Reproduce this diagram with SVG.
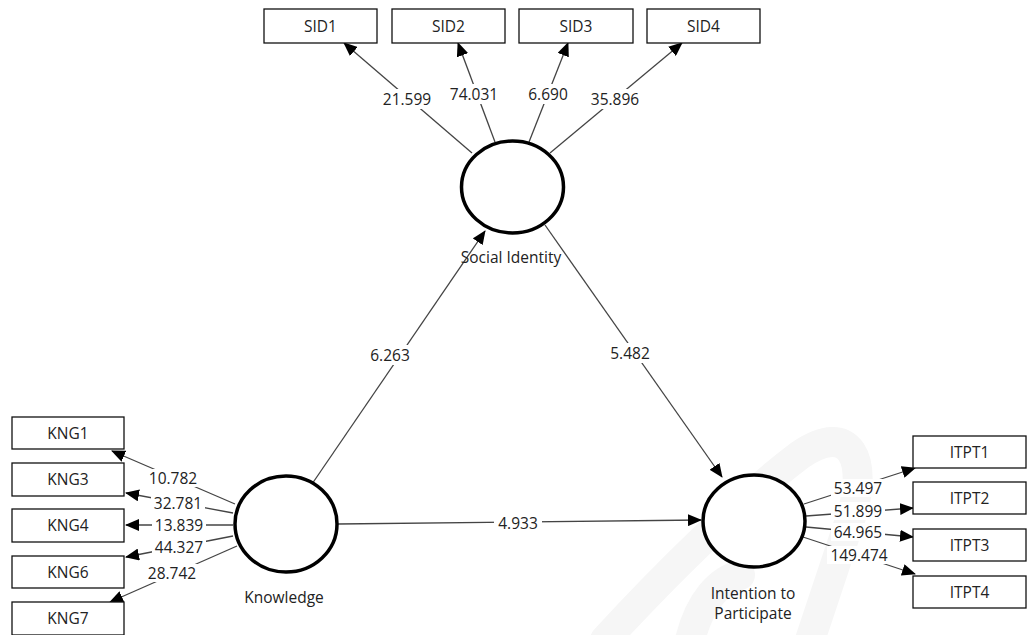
<svg xmlns="http://www.w3.org/2000/svg" width="1027" height="635" viewBox="0 0 1027 635">
<style>
.box{fill:#fff;stroke:#111;stroke-width:1.3}
.lv{fill:#fff;stroke:#000;stroke-width:3.5}
.t{font-family:"Open Sans","Noto Sans",sans-serif;font-size:15.5px;fill:#222;text-anchor:middle}
.c{stroke:#444;stroke-width:1.3;fill:none;marker-end:url(#ah)}
.bg{fill:#fff}
</style>
<defs>
<marker id="ah" markerUnits="userSpaceOnUse" markerWidth="14" markerHeight="12" viewBox="0 0 14 12" refX="13" refY="6" orient="auto">
<path d="M0,0 L14,6 L0,12 Z" fill="#000"/>
</marker>
</defs>
<rect width="1027" height="635" fill="#fff"/>
<g id="watermark" fill="none" stroke="#f6f6f6" stroke-width="30" stroke-linecap="round">
<path d="M605,640 C660,580 740,500 800,455 C850,420 870,460 850,520 C830,580 820,610 810,640"/>
<path d="M690,640 C700,600 720,580 740,575"/>
</g>
<g id="connectors">
<line class="c" x1="472" y1="153" x2="344" y2="43"/>
<line class="c" x1="495" y1="142" x2="458" y2="43"/>
<line class="c" x1="529" y1="142" x2="568" y2="43"/>
<line class="c" x1="550" y1="153" x2="682" y2="43"/>
<line class="c" x1="235" y1="504" x2="112" y2="451"/>
<line class="c" x1="233" y1="513" x2="126" y2="493"/>
<line class="c" x1="233" y1="525" x2="126" y2="525"/>
<line class="c" x1="233" y1="536" x2="126" y2="557"/>
<line class="c" x1="237" y1="546" x2="110" y2="602"/>
<line class="c" x1="804" y1="504" x2="915" y2="468"/>
<line class="c" x1="806" y1="516" x2="913" y2="508"/>
<line class="c" x1="806" y1="527" x2="913" y2="537"/>
<line class="c" x1="803" y1="537" x2="915" y2="574"/>
<line class="c" x1="312" y1="484" x2="485" y2="231"/>
<line class="c" x1="545" y1="225" x2="722" y2="477"/>
<line class="c" x1="338" y1="524" x2="701" y2="520"/>
</g>
<g id="labels">
<rect class="bg" x="380" y="89" width="54" height="20"/><text class="t" x="407" y="104.5">21.599</text>
<rect class="bg" x="447" y="84" width="54" height="20"/><text class="t" x="474" y="99.5">74.031</text>
<rect class="bg" x="525" y="84" width="46" height="20"/><text class="t" x="548" y="99.5">6.690</text>
<rect class="bg" x="588" y="89" width="54" height="20"/><text class="t" x="615" y="104.5">35.896</text>
<rect class="bg" x="146" y="469" width="54" height="18"/><text class="t" x="173" y="483.5">10.782</text>
<rect class="bg" x="151" y="494" width="54" height="18"/><text class="t" x="178" y="508.5">32.781</text>
<rect class="bg" x="152" y="516" width="54" height="18"/><text class="t" x="179" y="530.5">13.839</text>
<rect class="bg" x="152" y="538" width="54" height="18"/><text class="t" x="179" y="552.5">44.327</text>
<rect class="bg" x="145" y="564" width="54" height="18"/><text class="t" x="172" y="578.5">28.742</text>
<rect class="bg" x="831" y="479" width="54" height="18"/><text class="t" x="858" y="493.5">53.497</text>
<rect class="bg" x="831" y="502" width="54" height="18"/><text class="t" x="858" y="516.5">51.899</text>
<rect class="bg" x="831" y="523" width="54" height="18"/><text class="t" x="858" y="537.5">64.965</text>
<rect class="bg" x="827" y="546" width="64" height="18"/><text class="t" x="859" y="560.5">149.474</text>
<rect class="bg" x="366" y="345" width="48" height="20"/><text class="t" x="390" y="360.5">6.263</text>
<rect class="bg" x="606" y="343" width="48" height="20"/><text class="t" x="630" y="358.5">5.482</text>
<rect class="bg" x="494" y="513" width="48" height="20"/><text class="t" x="518" y="528.5">4.933</text>
</g>
<g id="SID1"><rect class="box" x="264" y="9" width="113" height="34"/><text class="t" x="320.5" y="31.5">SID1</text></g>
<g id="SID2"><rect class="box" x="392" y="9" width="113" height="34"/><text class="t" x="448.5" y="31.5">SID2</text></g>
<g id="SID3"><rect class="box" x="519" y="9" width="114" height="34"/><text class="t" x="576" y="31.5">SID3</text></g>
<g id="SID4"><rect class="box" x="647" y="9" width="113" height="34"/><text class="t" x="703.5" y="31.5">SID4</text></g>
<g id="KNG1"><rect class="box" x="12" y="417" width="112" height="32"/><text class="t" x="68" y="438.5">KNG1</text></g>
<g id="KNG3"><rect class="box" x="12" y="463" width="112" height="33"/><text class="t" x="68" y="485">KNG3</text></g>
<g id="KNG4"><rect class="box" x="12" y="509" width="112" height="33"/><text class="t" x="68" y="531">KNG4</text></g>
<g id="KNG6"><rect class="box" x="12" y="556" width="112" height="32"/><text class="t" x="68" y="577.5">KNG6</text></g>
<g id="KNG7"><rect class="box" x="12" y="602" width="112" height="33"/><text class="t" x="68" y="624">KNG7</text></g>
<g id="ITPT1"><rect class="box" x="913" y="436" width="113" height="32"/><text class="t" x="969.5" y="457.5">ITPT1</text></g>
<g id="ITPT2"><rect class="box" x="913" y="482" width="113" height="32"/><text class="t" x="969.5" y="503.5">ITPT2</text></g>
<g id="ITPT3"><rect class="box" x="913" y="529" width="113" height="32"/><text class="t" x="969.5" y="550.5">ITPT3</text></g>
<g id="ITPT4"><rect class="box" x="913" y="576" width="113" height="32"/><text class="t" x="969.5" y="597.5">ITPT4</text></g>
<g id="SocialIdentity"><ellipse class="lv" cx="512.5" cy="187" rx="51" ry="46"/><text class="t" x="511" y="262.5">Social Identity</text></g>
<g id="Knowledge"><ellipse class="lv" cx="286" cy="524" rx="51" ry="48"/><text class="t" x="284" y="602.5">Knowledge</text></g>
<g id="IntentionToParticipate"><ellipse class="lv" cx="754" cy="521" rx="51" ry="46"/><text class="t" x="753" y="598.5">Intention to</text><text class="t" x="753" y="618.5">Participate</text></g>
</svg>
